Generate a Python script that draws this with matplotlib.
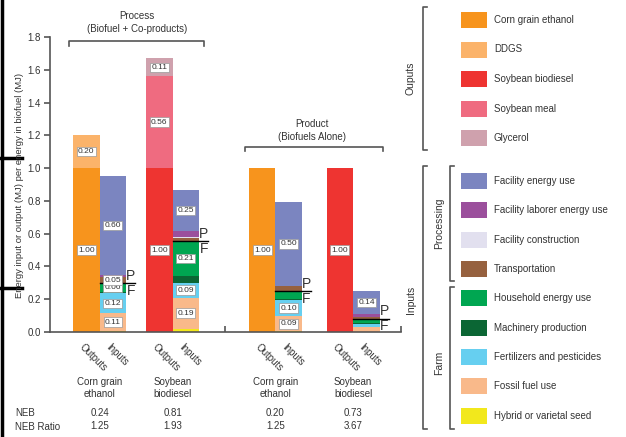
import numpy as np
import matplotlib.pyplot as plt
from matplotlib.patches import Rectangle

plt.rcParams['font.family'] = ['Liberation Sans', 'DejaVu Sans']

# Output categories (bottom to top of an output bar)
out_names = ['Corn grain ethanol', 'DDGS', 'Soybean biodiesel', 'Soybean meal', 'Glycerol']
out_colors = ['#F7941D', '#FBB36A', '#EE3431', '#EF6B80', '#CFA1AD']

# Input categories (bottom to top of an input bar)
in_names = ['Hybrid or varietal seed', 'Fossil fuel use', 'Fertilizers and pesticides',
            'Machinery production', 'Household energy use', 'Transportation',
            'Facility construction', 'Facility laborer energy use', 'Facility energy use']
in_colors = ['#F2E81C', '#F9B98A', '#66CFF0', '#0B6634', '#00A651', '#96613F',
             '#E2E0EF', '#9B4F9C', '#7B85C0']

# Process (biofuel + co-products)
corn_proc_out = [1.00, 0.20]
corn_proc_out_lab = ['1.00', '0.20']
soy_proc_out = [1.00, 0.56, 0.11]
soy_proc_out_lab = ['1.00', '0.56', '0.11']
corn_proc_in = [0.005, 0.11, 0.12, 0.008, 0.055, 0.037, 0.003, 0.012, 0.60]
corn_proc_in_lab = ['', '0.11', '0.12', '', '0.06', '0.05', '', '', '0.60']
soy_proc_in = [0.02, 0.19, 0.09, 0.043, 0.21, 0.018, 0.008, 0.037, 0.25]
soy_proc_in_lab = ['', '0.19', '0.09', '', '0.21', '', '', '', '0.25']

# Product (biofuels alone)
corn_prod_out = [1.00]
corn_prod_out_lab = ['1.00']
soy_prod_out = [1.00]
soy_prod_out_lab = ['1.00']
corn_prod_in = [0.005, 0.09, 0.10, 0.008, 0.045, 0.035, 0.0, 0.0, 0.51]
corn_prod_in_lab = ['', '0.09', '0.10', '', '', '', '', '', '0.50']
soy_prod_in = [0.003, 0.03, 0.016, 0.005, 0.028, 0.008, 0.0, 0.02, 0.14]
soy_prod_in_lab = ['', '', '', '', '', '', '', '', '0.14']

group_names = ['Corn grain\nethanol', 'Soybean\nbiodiesel', 'Corn grain\nethanol', 'Soybean\nbiodiesel']
neb = ['0.24', '0.81', '0.20', '0.73']
neb_ratio = ['1.25', '1.93', '1.25', '3.67']

fig = plt.figure(figsize=(6.26, 4.37), dpi=100)

# overlay in pixel coordinates for the annotations and the legend
ov = fig.add_axes([0, 0, 1, 1])
ov.set_xlim(0, 626)
ov.set_ylim(437, 0)
ov.axis('off')

ax = fig.add_axes([50 / 626, 105 / 437, 351 / 626, 295 / 437])
ax.set_facecolor('none')

txt = '#333333'
gray = '#555555'

# bar positions (bar width = 1)
out_x = [1.365, 4.11, 7.98, 10.9]
in_x = [x + 1 for x in out_x]
sep_x = 6.58
x_end = 13.2

outs = [(corn_proc_out, [0, 1], corn_proc_out_lab),
        (soy_proc_out, [2, 3, 4], soy_proc_out_lab),
        (corn_prod_out, [0], corn_prod_out_lab),
        (soy_prod_out, [2], soy_prod_out_lab)]
ins = [(corn_proc_in, corn_proc_in_lab), (soy_proc_in, soy_proc_in_lab),
       (corn_prod_in, corn_prod_in_lab), (soy_prod_in, soy_prod_in_lab)]

box = dict(boxstyle='square,pad=0.15', fc='white', ec='#999999', lw=0.5)


def stack(x, vals, colors, labs):
    b = 0
    for v, c, lab in zip(vals, colors, labs):
        if v > 0:
            ax.bar(x, v, width=1, bottom=b, color=c, linewidth=0)
        if lab:
            ax.text(x, b + v / 2, lab, ha='center', va='center', fontsize=6,
                    color=txt, bbox=box)
        b += v


for x, (vals, idx, labs) in zip(out_x, outs):
    stack(x, vals, [out_colors[i] for i in idx], labs)

for x, (vals, labs) in zip(in_x, ins):
    stack(x, vals, in_colors, labs)
    y = sum(vals[:5])
    ax.plot([x - 0.5, x + 0.84], [y, y], color='black', lw=1, clip_on=False)
    ax.text(x + 0.67, y + 0.046, 'P', ha='center', va='center', fontsize=10, color=txt)
    ax.text(x + 0.67, y - 0.046, 'F', ha='center', va='center', fontsize=10, color=txt)

ax.set_xlim(0, x_end)
ax.set_ylim(0, 1.8)
ax.set_yticks(np.arange(0, 1.81, 0.2))
ax.set_yticklabels(['%.1f' % v for v in np.arange(0, 1.81, 0.2)])
ax.set_xticks([sep_x, x_end])
ax.set_xticklabels([])
ax.tick_params(axis='y', direction='out', length=4.5, width=1.2, color=gray,
               labelsize=7, labelcolor=txt, pad=2)
ax.tick_params(axis='x', direction='in', length=4.5, width=1.2, color=gray)
for s in ['top', 'right']:
    ax.spines[s].set_visible(False)
for s in ['left', 'bottom']:
    ax.spines[s].set_color(gray)
    ax.spines[s].set_linewidth(1.2)

# rotated bar labels
xt = ax.get_xaxis_transform()
for xo, xi in zip(out_x, in_x):
    ax.text(xo - 0.2, -0.045, 'Outputs', transform=xt, rotation=-45, rotation_mode='anchor',
            ha='left', va='center', fontsize=7, color=txt)
    ax.text(xi - 0.2, -0.045, 'Inputs', transform=xt, rotation=-45, rotation_mode='anchor',
            ha='left', va='center', fontsize=7, color=txt)

# group names and NEB rows
for xo, name, n, r in zip(out_x, group_names, neb, neb_ratio):
    xc = xo + 0.5
    ax.text(xc, -0.190, name, transform=xt, ha='center', va='center', fontsize=7,
            color=txt, linespacing=1.15)
    ax.text(xc, -0.273, n, transform=xt, ha='center', va='center', fontsize=7, color=txt)
    ax.text(xc, -0.319, r, transform=xt, ha='center', va='center', fontsize=7, color=txt)
ov.text(15, 413, 'NEB', ha='left', va='center', fontsize=7, color=txt)
ov.text(15, 427, 'NEB Ratio', ha='left', va='center', fontsize=7, color=txt)

# top brackets
ov.plot([69, 69, 204, 204], [46, 41, 41, 46], color=gray, lw=1.2)
ov.text(137, 16, 'Process', ha='center', va='center', fontsize=7, color=txt)
ov.text(137, 29, '(Biofuel + Co-products)', ha='center', va='center', fontsize=7, color=txt)
ov.plot([245, 245, 383, 383], [151, 147, 147, 151], color=gray, lw=1.2)
ov.text(312, 124, 'Product', ha='center', va='center', fontsize=7, color=txt)
ov.text(312, 137, '(Biofuels Alone)', ha='center', va='center', fontsize=7, color=txt)

# y label
ov.text(20, 185, 'Energy input or output (MJ) per energy in biofuel (MJ)', rotation=90,
        ha='center', va='center', fontsize=6.8, color=txt)

# black line at the left edge
ov.plot([2, 2], [0, 437], color='black', lw=2.5)
ov.plot([0, 22], [158, 158], color='black', lw=2.5)
ov.plot([0, 22], [288, 288], color='black', lw=2.5)

# legend
out_rows = [20, 49.5, 79, 108.5, 138]
in_rows = [181, 210.3, 239.7, 269, 298.3, 327.6, 357, 386.3, 415.6]
for y, name, c in zip(out_rows, out_names, out_colors):
    ov.add_patch(Rectangle((461, y - 8), 26, 16, color=c, lw=0))
    ov.text(494, y, name, ha='left', va='center', fontsize=7, color=txt)
for y, name, c in zip(in_rows, in_names[::-1], in_colors[::-1]):
    ov.add_patch(Rectangle((461, y - 8), 26, 16, color=c, lw=0))
    ov.text(494, y, name, ha='left', va='center', fontsize=7, color=txt)


def bracket(x, y0, y1):
    ov.plot([x + 4, x, x, x + 4], [y0, y0, y1, y1], color=gray, lw=1.2)


bracket(423, 7, 150)
bracket(423, 166, 429)
bracket(450, 166, 281)
bracket(450, 287, 429)
ov.text(411, 78, 'Ouputs', rotation=90, ha='center', va='center', fontsize=7.5, color=txt)
ov.text(411, 300, 'Inputs', rotation=90, ha='center', va='center', fontsize=7.5, color=txt)
ov.text(439, 223, 'Processing', rotation=90, ha='center', va='center', fontsize=7.5, color=txt)
ov.text(439, 363, 'Farm', rotation=90, ha='center', va='center', fontsize=7.5, color=txt)

fig.savefig('out.png', dpi=100)
